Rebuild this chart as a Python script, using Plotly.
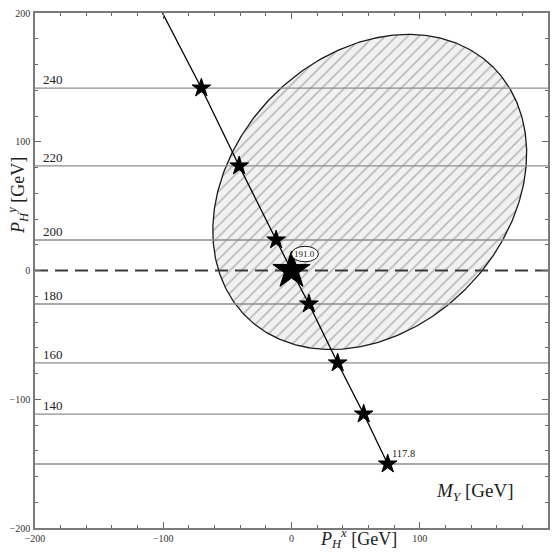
import numpy as np
import plotly.graph_objects as go

# Scan of M_Y: positions of the Higgs transverse momentum (P_H^x, P_H^y)
mass_labels = ["240", "220", "200", "191.0", "180", "160", "140", "117.8"]
star_x = [-70.3, -40.8, -12.0, 0.0, 13.6, 36.0, 56.3, 75.0]
star_y = [141.7, 81.2, 23.7, 0.0, -26.0, -71.8, -111.5, -150.3]
# the curve enters the frame at the top edge
curve_x = [-100.6] + star_x
curve_y = [200.0] + star_y

# horizontal reference lines for each mass (except the best-fit point)
level_labels = ["240", "220", "200", "180", "160", "140", "117.8"]
level_y = [141.7, 81.2, 23.7, -26.0, -71.8, -111.5, -150.3]

# allowed region: ellipse center, semi-axes and orientation
ell_cx, ell_cy = 61.0, 61.0
ell_a, ell_b = 136.6, 106.2
ell_angle_deg = 45.0

serif = "Liberation Serif"

fig = go.Figure()

t = np.linspace(0, 2 * np.pi, 400)
th = np.deg2rad(ell_angle_deg)
ex = ell_cx + ell_a * np.cos(t) * np.cos(th) - ell_b * np.sin(t) * np.sin(th)
ey = ell_cy + ell_a * np.cos(t) * np.sin(th) + ell_b * np.sin(t) * np.cos(th)
fig.add_trace(go.Scatter(
    x=ex, y=ey, mode="lines", fill="toself",
    line=dict(color="#1a1a1a", width=1.3),
    fillcolor="#f1f1f1",
    fillpattern=dict(shape="/", size=8, solidity=0.2,
                     fgcolor="#808080", bgcolor="#f1f1f1"),
    hoverinfo="skip", showlegend=False))

for yv in level_y:
    fig.add_trace(go.Scatter(
        x=[-200, 200], y=[yv, yv], mode="lines",
        line=dict(color="#8c8c8c", width=1.3),
        hoverinfo="skip", showlegend=False))

fig.add_trace(go.Scatter(
    x=[-200, 200], y=[0, 0], mode="lines",
    line=dict(color="#3a3a3a", width=1.8, dash="13px,7px"),
    hoverinfo="skip", showlegend=False))

fig.add_trace(go.Scatter(
    x=curve_x, y=curve_y, mode="lines",
    line=dict(color="#000000", width=1.3),
    hoverinfo="skip", showlegend=False))

sizes = [14 if m != "191.0" else 28 for m in mass_labels]
fig.add_trace(go.Scatter(
    x=star_x, y=star_y, mode="markers",
    marker=dict(symbol="star", size=sizes, color="#000000", opacity=1,
                line=dict(width=1, color="#000000")),
    hoverinfo="skip", showlegend=False))

# left-hand mass labels on the reference lines
for lab, yv in zip(level_labels[:-1], level_y[:-1]):
    fig.add_annotation(x=-195, y=yv, text=lab, showarrow=False,
                       xanchor="left", yanchor="bottom", yshift=-1,
                       font=dict(family=serif, size=13, color="#222"))

# endpoint label
fig.add_annotation(x=star_x[-1], y=star_y[-1], text=mass_labels[-1],
                   showarrow=False, xanchor="left", yanchor="bottom",
                   xshift=2, yshift=3,
                   font=dict(family=serif, size=10.5, color="#222"))

# best-fit bubble
bx, by = 10.5, 12.8
fig.add_shape(type="circle", xref="x", yref="y",
              x0=bx - 10.5, x1=bx + 10.5, y0=by - 6.0, y1=by + 6.0,
              line=dict(color="#111", width=1), fillcolor="white")
fig.add_annotation(x=bx, y=by, text=mass_labels[3], showarrow=False,
                   font=dict(family=serif, size=9, color="#111"))

fig.add_annotation(x=143, y=-172, text="<i>M</i><sub><i>Y</i></sub> [GeV]",
                   showarrow=False,
                   font=dict(family=serif, size=19, color="#222"))

# axis titles
fig.add_annotation(xref="paper", yref="paper", x=0.63, y=-0.021,
                   text="<i>P</i><sub><i>H</i></sub><sup><i>x</i></sup> [GeV]",
                   showarrow=False, xanchor="center", yanchor="middle",
                   font=dict(family=serif, size=18, color="#222"))
fig.add_annotation(xref="paper", yref="paper", x=-0.033, y=0.645,
                   text="<i>P</i><sub><i>H</i></sub><sup><i>y</i></sup> [GeV]",
                   showarrow=False, textangle=-90,
                   xanchor="center", yanchor="middle",
                   font=dict(family=serif, size=18, color="#222"))

axis_common = dict(
    range=[-200, 200], tickvals=[-200, -100, 0, 100, 200],
    ticks="inside", ticklen=6, tickwidth=1, tickcolor="#666",
    minor=dict(ticks="inside", dtick=20, ticklen=3.5, tickcolor="#666",
               tickwidth=1),
    showline=True, linecolor="#7a7a7a", linewidth=1.6, mirror="allticks",
    showgrid=False, zeroline=False,
    tickfont=dict(family=serif, size=10, color="#333"),
)

fig.update_xaxes(**axis_common, ticklabelstandoff=0)
fig.update_yaxes(**axis_common, ticklabelstandoff=1)

fig.update_layout(
    width=554, height=552,
    margin=dict(l=35, r=4, t=13, b=24),
    plot_bgcolor="white", paper_bgcolor="white",
    showlegend=False,
)

fig.write_html("out.html")
